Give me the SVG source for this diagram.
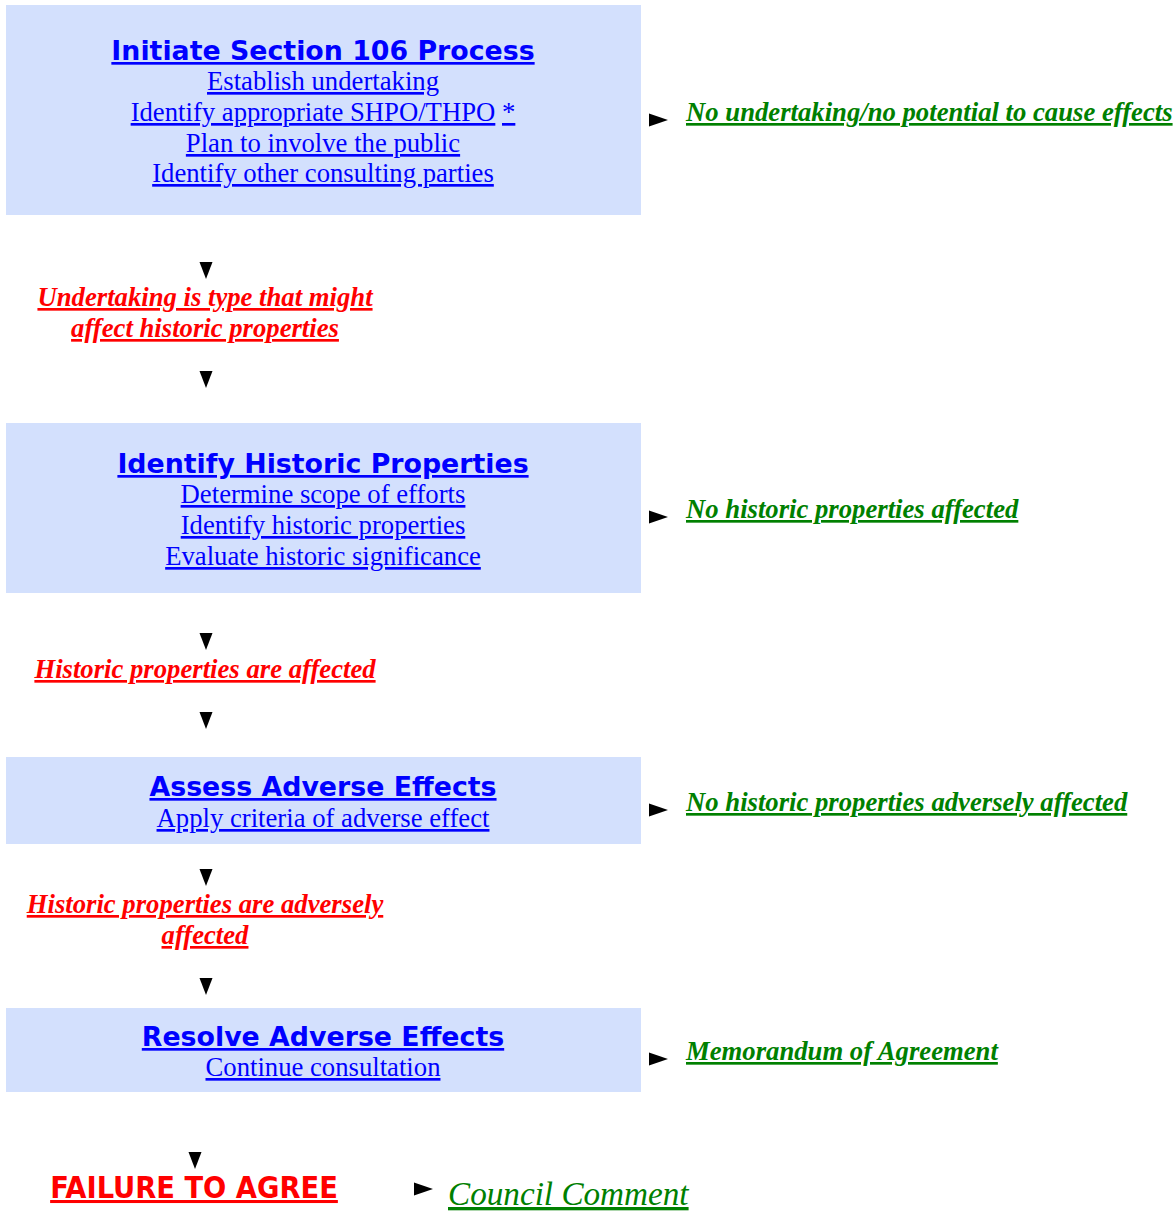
<svg xmlns="http://www.w3.org/2000/svg" width="1174" height="1212" viewBox="0 0 1174 1212">
<style>
.box{fill:#d3e0fd}
.title{font-family:"DejaVu Sans",Verdana,sans-serif;font-weight:bold;font-size:26.8px;fill:#0000ff;text-anchor:middle;text-decoration:underline}
.item{font-family:"Liberation Serif","Times New Roman",serif;font-size:26.7px;fill:#0000ff;text-anchor:middle;text-decoration:underline}
.plain{font-family:"Liberation Serif","Times New Roman",serif;font-size:26.7px;fill:#0000ff;text-anchor:middle}
.u{text-decoration:underline}
.cond{font-family:"Liberation Serif","Times New Roman",serif;font-weight:bold;font-style:italic;font-size:26.7px;fill:#ff0000;text-anchor:middle;text-decoration:underline}
.out{font-family:"Liberation Serif","Times New Roman",serif;font-weight:bold;font-style:italic;font-size:26.7px;fill:#008000;text-decoration:underline}
.arr{fill:#000}
.fail{font-family:"DejaVu Sans Condensed","DejaVu Sans",sans-serif;font-weight:bold;font-size:30.4px;fill:#ff0000;text-anchor:middle;text-decoration:underline}
.council{font-family:"Liberation Serif","Times New Roman",serif;font-style:italic;font-size:33.2px;fill:#008000;text-decoration:underline}
</style>
<defs>
<path id="down" d="M-6.5,0 L6.5,0 L0,17 Z"/>
<path id="right" d="M0,-6.5 L19,0 L0,6.5 Z"/>
</defs>
<g id="node-initiate">
<rect class="box" x="6" y="5" width="635" height="210"/>
<text class="title" x="323" y="60">Initiate Section 106 Process</text>
<text class="item" x="323" y="90">Establish undertaking</text>
<text class="plain" x="323" y="121"><tspan class="u">Identify appropriate SHPO/THPO</tspan> <tspan class="u">*</tspan></text>
<text class="item" x="323" y="152">Plan to involve the public</text>
<text class="item" x="323" y="182">Identify other consulting parties</text>
</g>
<g id="node-identify">
<rect class="box" x="6" y="423" width="635" height="170"/>
<text class="title" x="323" y="473">Identify Historic Properties</text>
<text class="item" x="323" y="503">Determine scope of efforts</text>
<text class="item" x="323" y="534">Identify historic properties</text>
<text class="item" x="323" y="565">Evaluate historic significance</text>
</g>
<g id="node-assess">
<rect class="box" x="6" y="757" width="635" height="87"/>
<text class="title" x="323" y="796">Assess Adverse Effects</text>
<text class="item" x="323" y="827">Apply criteria of adverse effect</text>
</g>
<g id="node-resolve">
<rect class="box" x="6" y="1008" width="635" height="84"/>
<text class="title" x="323" y="1046">Resolve Adverse Effects</text>
<text class="item" x="323" y="1076">Continue consultation</text>
</g>
<g id="cond-undertaking">
<text class="cond" x="205" y="306">Undertaking is type that might</text>
<text class="cond" x="205" y="337">affect historic properties</text>
</g>
<g id="cond-affected">
<text class="cond" x="205" y="678">Historic properties are affected</text>
</g>
<g id="cond-adverse">
<text class="cond" x="205" y="913">Historic properties are adversely</text>
<text class="cond" x="205" y="944">affected</text>
</g>
<g id="fail">
<text class="fail" x="194" y="1198">FAILURE TO AGREE</text>
</g>
<g id="out-1"><text class="out" x="686" y="121">No undertaking/no potential to cause effects</text></g>
<g id="out-2"><text class="out" x="686" y="518">No historic properties affected</text></g>
<g id="out-3"><text class="out" x="686" y="811">No historic properties adversely affected</text></g>
<g id="out-4"><text class="out" x="686" y="1060">Memorandum of Agreement</text></g>
<g id="out-5"><text class="council" x="448" y="1205">Council Comment</text></g>
<g id="connectors" class="arr">
<use href="#down" x="206" y="262"/>
<use href="#down" x="206" y="371"/>
<use href="#down" x="206" y="633"/>
<use href="#down" x="206" y="712"/>
<use href="#down" x="206" y="869"/>
<use href="#down" x="206" y="978"/>
<use href="#down" x="195" y="1152"/>
<use href="#right" x="649" y="120"/>
<use href="#right" x="649" y="517"/>
<use href="#right" x="649" y="810"/>
<use href="#right" x="649" y="1059"/>
<use href="#right" x="414" y="1189"/>
</g>
</svg>
